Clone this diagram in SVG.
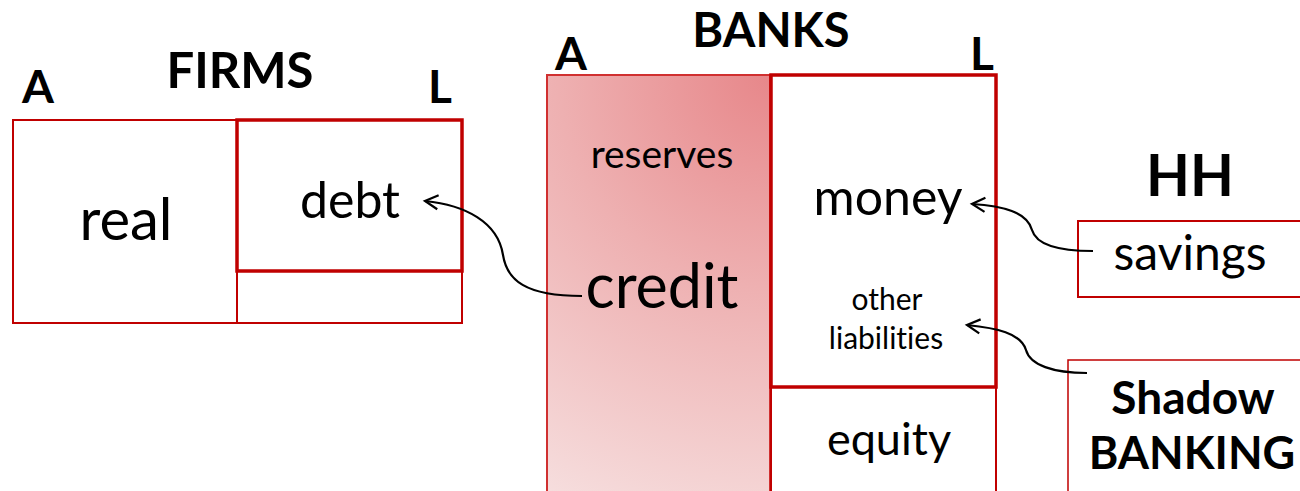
<svg xmlns="http://www.w3.org/2000/svg" width="1300" height="491" viewBox="0 0 1300 491">
<style>
text{font-family:Lato,"Noto Sans","Liberation Sans",sans-serif;fill:#000;text-anchor:middle;font-variant-ligatures:none}
.b{font-weight:bold}
.thin{fill:none;stroke:#c00000;stroke-width:2}
.thick{fill:none;stroke:#c00000;stroke-width:3.5}
.conn{fill:none;stroke:#000;stroke-width:2.2}
</style>
<defs>
<radialGradient id="pink" gradientUnits="userSpaceOnUse" cx="770" cy="75" r="470">
<stop offset="0" stop-color="#e7878a"/>
<stop offset="0.45" stop-color="#eeb0b1"/>
<stop offset="1" stop-color="#f6dddd"/>
</radialGradient>
<marker id="arr" markerWidth="22" markerHeight="20" refX="19" refY="10" orient="auto" markerUnits="userSpaceOnUse">
<path d="M6,3 L19,10 L6,17" fill="none" stroke="#000" stroke-width="2.2"/>
</marker>
</defs>
<rect width="1300" height="491" fill="#fff"/>

<g id="firms">
<text class="b" x="240" y="88" font-size="49">FIRMS</text>
<text class="b" x="38" y="103" font-size="46">A</text>
<text class="b" x="440" y="103" font-size="46">L</text>
<rect class="thin" x="13" y="120" width="449" height="203"/>
<line class="thin" x1="237" y1="120" x2="237" y2="323"/>
<text x="126" y="240" font-size="58">real</text>
</g>
<g id="firms-debt">
<rect class="thick" x="237" y="120" width="225" height="151"/>
<text x="350" y="218" font-size="50">debt</text>
</g>

<g id="banks">
<text class="b" x="771" y="47" font-size="47">BANKS</text>
<text class="b" x="571" y="70" font-size="46">A</text>
<text class="b" x="982" y="70" font-size="46">L</text>
</g>
<g id="banks-assets">
<rect x="547" y="75" width="223" height="420" fill="url(#pink)" stroke="#d03030" stroke-width="2"/>
<text x="662" y="168" font-size="39">reserves</text>
<text x="662" y="308" font-size="61">credit</text>
</g>
<g id="banks-liabilities">
<rect class="thick" x="771" y="75" width="225" height="312"/>
<text x="888" y="215" font-size="50">money</text>
<text x="887" y="310" font-size="30">other</text>
<text x="886" y="349" font-size="30">liabilities</text>
</g>
<g id="banks-equity">
<rect class="thin" x="771" y="387" width="225" height="108"/>
<text x="889" y="455" font-size="45">equity</text>
</g>

<g id="hh">
<text class="b" x="1190" y="196" font-size="57">HH</text>
<rect class="thin" x="1078" y="221" width="230" height="76"/>
<text x="1190" y="270" font-size="48">savings</text>
</g>

<g id="shadow">
<rect x="1068" y="360" width="240" height="140" fill="none" stroke="#c00000" stroke-width="1.5"/>
<text class="b" x="1193" y="414" font-size="46">Shadow</text>
<text class="b" x="1192" y="469" font-size="45">BANKING</text>
</g>

<g id="connectors">
<path class="conn" d="M582,296 C525,296 507,280 503,255 C498,222 465,205 425,201" marker-end="url(#arr)"/>
<path class="conn" d="M1093,251 C1058,251 1036,244 1032,230 C1027,212 1003,206 972,204" marker-end="url(#arr)"/>
<path class="conn" d="M1087,373 C1053,373 1030,365 1026,350 C1021,333 996,328 967,325" marker-end="url(#arr)"/>
</g>
</svg>
